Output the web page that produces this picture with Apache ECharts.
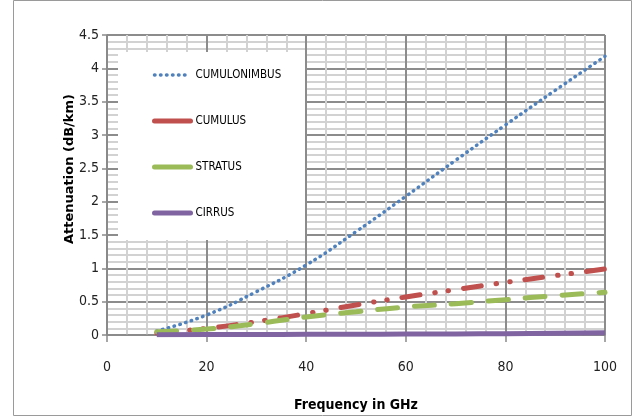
<!DOCTYPE html>
<html><head><meta charset="utf-8">
<script src="https://cdn.jsdelivr.net/npm/echarts@6/dist/echarts.min.js"></script>
<style>html,body{margin:0;padding:0;background:#fff}#c{width:635px;height:418px}</style>
</head><body><div id="c"></div>
<script>
const freq = [10, 20, 30, 40, 50, 60, 70, 80, 90, 100];
const cumulonimbus = [0.06, 0.30, 0.65, 1.05, 1.55, 2.08, 2.62, 3.15, 3.67, 4.18];
const cumulus = [0.03, 0.10, 0.20, 0.32, 0.45, 0.57, 0.68, 0.79, 0.89, 0.99];
const stratus = [0.05, 0.09, 0.17, 0.27, 0.35, 0.42, 0.47, 0.53, 0.59, 0.64];
const cirrus = [0.005, 0.006, 0.008, 0.010, 0.012, 0.014, 0.016, 0.020, 0.028, 0.035];
const seriesNames = ['CUMULONIMBUS', 'CUMULUS', 'STRATUS', 'CIRRUS'];
const xTickLabels = ['0', '20', '40', '60', '80', '100'];
const yTickLabels = ['0', '0.5', '1', '1.5', '2', '2.5', '3', '3.5', '4', '4.5'];

const NARROW = "'DejaVu Sans Condensed', 'Liberation Sans Narrow', sans-serif";
const pairs = arr => freq.map((f, i) => [f, arr[i]]);
const hiddenSym = {color: 'rgba(0,0,0,0)', borderWidth: 0, opacity: 0};

const chart = echarts.init(document.getElementById('c'), null, {renderer: 'canvas'});
chart.setOption({
  animation: false,
  backgroundColor: '#fff',
  grid: {left: 107, right: 30, top: 35, bottom: 83, containLabel: false},
  graphic: [
    {type: 'rect', z: 0, shape: {x: 13.5, y: 0.5, width: 618, height: 415}, style: {fill: 'none', stroke: '#9a9a9a', lineWidth: 1}},
    {type: 'rect', z: 3, shape: {x: 118, y: 52, width: 187, height: 188}, style: {fill: '#fff'}}
  ],
  legend: {
    orient: 'vertical', left: 152, top: 69, padding: 0,
    itemWidth: 36, itemHeight: 14, itemGap: 34, z: 5,
    textStyle: {fontFamily: NARROW, fontSize: 11.5, color: '#000'},
    data: [
      {name: seriesNames[0], itemStyle: hiddenSym, lineStyle: {width: 3.5, type: [0.5, 5.5], cap: 'round'}},
      {name: seriesNames[1], itemStyle: hiddenSym, lineStyle: {width: 5, type: 'solid', cap: 'round'}},
      {name: seriesNames[2], itemStyle: hiddenSym, lineStyle: {width: 5, type: 'solid', cap: 'round'}},
      {name: seriesNames[3], itemStyle: hiddenSym, lineStyle: {width: 5, type: 'solid', cap: 'round'}}
    ]
  },
  xAxis: {
    type: 'value', min: 0, max: 100, interval: 20,
    name: 'Frequency in GHz', nameLocation: 'middle', nameGap: 63,
    nameTextStyle: {fontFamily: NARROW, fontWeight: 'bold', fontSize: 14, color: '#000'},
    axisLine: {show: true, lineStyle: {color: '#8a8a8a', width: 1.5}},
    axisTick: {show: true, length: 7, lineStyle: {color: '#8a8a8a', width: 1.5}},
    axisLabel: {margin: 25, fontFamily: NARROW, fontSize: 14, color: '#222',
      formatter: v => xTickLabels[Math.round(v / 20)]},
    splitLine: {show: true, lineStyle: {color: '#8c8c8c', width: 2}},
    minorTick: {show: false, splitNumber: 5},
    minorSplitLine: {show: true, lineStyle: {color: '#d2d2d2', width: 2}}
  },
  yAxis: {
    type: 'value', min: 0, max: 4.5, interval: 0.5,
    name: 'Attenuation (dB/km)', nameLocation: 'middle', nameGap: 31, nameMoveOverlap: false,
    nameTextStyle: {fontFamily: "'DejaVu Sans', sans-serif", fontWeight: 'bold', fontSize: 13, color: '#000', padding: [0, 0, 0, 32]},
    axisLine: {show: true, lineStyle: {color: '#8a8a8a', width: 1.5}},
    axisTick: {show: true, length: 5, lineStyle: {color: '#8a8a8a', width: 1.5}},
    axisLabel: {margin: 8, fontFamily: NARROW, fontSize: 14, color: '#222',
      formatter: v => yTickLabels[Math.round(v / 0.5)]},
    splitLine: {show: true, lineStyle: {color: '#8c8c8c', width: 2}},
    minorTick: {show: false, splitNumber: 5},
    minorSplitLine: {show: true, lineStyle: {color: '#d2d2d2', width: 2}}
  },
  series: [
    {name: seriesNames[0], type: 'line', data: pairs(cumulonimbus), smooth: true, symbol: 'none', showSymbol: false, z: 2,
      itemStyle: {color: '#4f81bd'},
      lineStyle: {color: '#4f81bd', width: 3.5, type: [0.5, 5.5], cap: 'round'}},
    {name: seriesNames[1], type: 'line', data: pairs(cumulus), smooth: true, symbol: 'none', showSymbol: false, z: 2,
      itemStyle: {color: '#c0504d'},
      lineStyle: {color: '#c0504d', width: 5, type: [18, 15, 0.5, 13, 0.5, 15], cap: 'round'}},
    {name: seriesNames[2], type: 'line', data: pairs(stratus), smooth: true, symbol: 'none', showSymbol: false, z: 2,
      itemStyle: {color: '#9bbb59'},
      lineStyle: {color: '#9bbb59', width: 5, type: [20, 17], cap: 'round'}},
    {name: seriesNames[3], type: 'line', data: pairs(cirrus), smooth: true, symbol: 'none', showSymbol: false, z: 2,
      itemStyle: {color: '#8064a2'},
      lineStyle: {color: '#8064a2', width: 5, type: 'solid'}}
  ]
});
</script></body></html>
